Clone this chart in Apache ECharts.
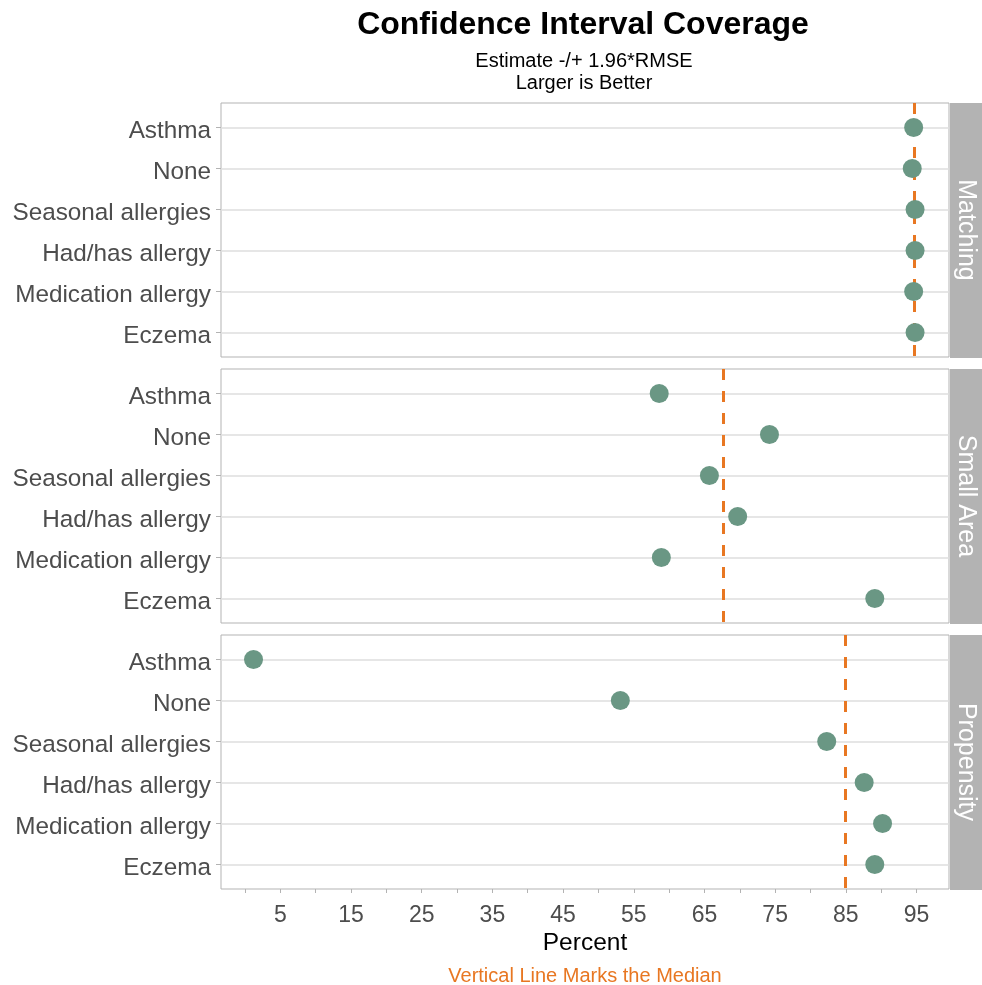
<!DOCTYPE html>
<html>
<head>
<meta charset="utf-8">
<script src="https://cdn.jsdelivr.net/npm/echarts@6/dist/echarts.min.js"></script>
<style>html,body{margin:0;padding:0;background:#fff;}#c{width:982px;height:985px;}</style>
</head>
<body>
<div id="c"></div>
<script>
const categories = ['Asthma', 'None', 'Seasonal allergies', 'Had/has allergy', 'Medication allergy', 'Eczema'];
const panels = ['Matching', 'Small Area', 'Propensity'];
const matching = [94.6, 94.4, 94.8, 94.8, 94.6, 94.8];
const smallArea = [58.6, 74.2, 65.7, 69.7, 58.9, 89.1];
const propensity = [1.2, 53.1, 82.3, 87.6, 90.2, 89.1];
const xTickLabels = [5, 15, 25, 35, 45, 55, 65, 75, 85, 95];
const xTicks = [0, 5, 10, 15, 20, 25, 30, 35, 40, 45, 50, 55, 60, 65, 70, 75, 80, 85, 90, 95];

const panelValues = [matching, smallArea, propensity];
function median(a) {
  const s = a.slice().sort((p, q) => p - q);
  const n = s.length;
  return n % 2 ? s[(n - 1) / 2] : (s[n / 2 - 1] + s[n / 2]) / 2;
}

const FONT = '"Liberation Sans", Arial, sans-serif';
const panelTops = [103, 369, 635];
const panelH = 254;
const gridLeft = 221, gridRight = 33;

const grids = [], xAxes = [], yAxes = [], series = [], graphics = [];
panelValues.forEach((vals, i) => {
  grids.push({ left: gridLeft, right: gridRight, top: panelTops[i], height: panelH,
    show: true, borderColor: '#b3b3b3', borderWidth: 1, backgroundColor: '#fff' });
  const last = i === panelValues.length - 1;
  xAxes.push({ type: 'value', gridIndex: i, min: -3.4, max: 99.6, position: 'bottom',
    axisLine: { show: false, onZero: false }, splitLine: { show: false },
    axisTick: { show: last, customValues: xTicks, length: 4, lineStyle: { color: '#b3b3b3', width: 1 } },
    axisLabel: { show: last, customValues: xTickLabels, fontSize: 23, color: '#4d4d4d', fontFamily: FONT, margin: 15 },
    name: last ? 'Percent' : '', nameLocation: 'middle', nameGap: 42,
    nameTextStyle: { fontSize: 24.5, color: '#000', fontFamily: FONT } });
  yAxes.push({ type: 'value', gridIndex: i, inverse: true, min: 0.4, max: 6.6, position: 'left',
    axisLine: { show: false, onZero: false },
    axisTick: { show: true, customValues: [1, 2, 3, 4, 5, 6], length: 5, lineStyle: { color: '#b3b3b3', width: 1 } },
    axisLabel: { customValues: [1, 2, 3, 4, 5, 6], fontSize: 24.3, color: '#4d4d4d', fontFamily: FONT, margin: 10,
      verticalAlign: 'top', lineHeight: 8,
      formatter: v => categories[Math.round(v) - 1] || '' },
    splitLine: { show: true, lineStyle: { color: '#dedede', width: 1.5 } } });
  series.push({ type: 'scatter', xAxisIndex: i, yAxisIndex: i, symbol: 'circle', symbolSize: 19,
    itemStyle: { color: '#6a9784', opacity: 1 }, z: 3,
    data: vals.map((v, k) => [v, k + 1]),
    markLine: { silent: true, symbol: 'none', label: { show: false }, z: 2,
      lineStyle: { color: '#e87722', width: 3, type: [11, 11] },
      data: [{ xAxis: median(vals) }] } });
  graphics.push({ type: 'rect', shape: { x: 950, y: panelTops[i], width: 32, height: panelH + 1 },
    style: { fill: '#b3b3b3' }, silent: true });
  graphics.push({ type: 'text', x: 966, y: panelTops[i] + panelH / 2, rotation: -Math.PI / 2,
    style: { text: panels[i], fill: '#fff', font: '25px ' + FONT, align: 'center', verticalAlign: 'middle' }, silent: true });
});

const chart = echarts.init(document.getElementById('c'), null, { renderer: 'canvas' });
chart.setOption({
  animation: false,
  backgroundColor: '#fff',
  title: [
    { text: 'Confidence Interval Coverage', left: 578, top: 4, textAlign: 'center',
      textStyle: { fontSize: 32, fontWeight: 'bold', color: '#000', fontFamily: FONT } },
    { text: 'Estimate -/+ 1.96*RMSE\nLarger is Better', left: 579, top: 45, textAlign: 'center',
      textStyle: { fontSize: 20, fontWeight: 'normal', color: '#000', fontFamily: FONT, lineHeight: 22 } },
    { text: 'Vertical Line Marks the Median', left: 580, top: 961, textAlign: 'center',
      textStyle: { fontSize: 20, fontWeight: 'normal', color: '#e87722', fontFamily: FONT } }
  ],
  grid: grids, xAxis: xAxes, yAxis: yAxes, series: series, graphic: graphics
});
</script>
</body>
</html>
